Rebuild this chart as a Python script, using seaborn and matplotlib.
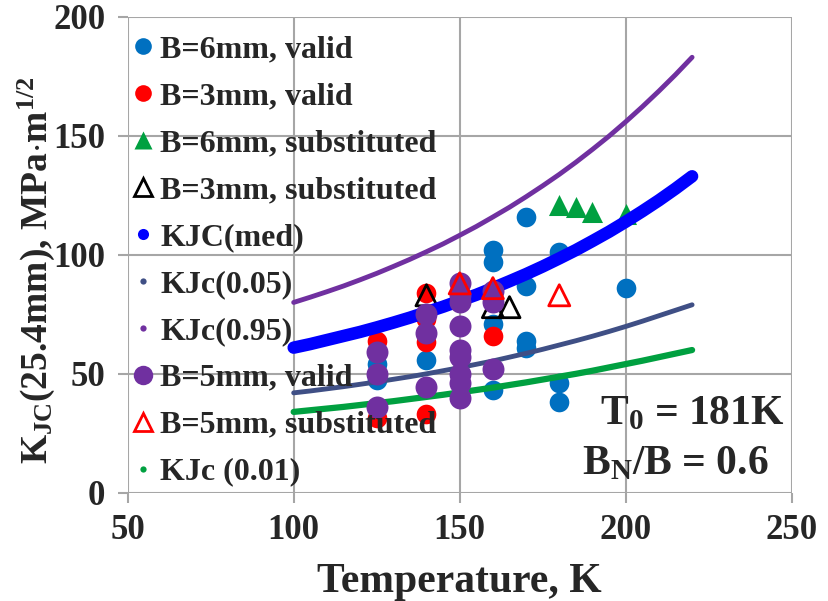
import numpy as np
import pandas as pd
import matplotlib
matplotlib.use('Agg')
import matplotlib.pyplot as plt
from matplotlib.lines import Line2D
import seaborn as sns

# measured points (Temperature K, KJC MPa*m^1/2)
b6_valid_T = [125, 125, 140, 160, 160, 160, 160, 170, 170, 170, 170, 180, 180, 180, 200]
b6_valid_K = [54, 47.5, 56, 102, 97, 71, 43, 116, 87, 64, 61, 101, 46, 38, 86]

b3_valid_T = [125, 125, 140, 140, 140, 140, 160]
b3_valid_K = [64, 31.5, 84, 73, 63.5, 33, 66]

b6_sub_T = [180, 185, 190, 200]
b6_sub_K = [121, 120, 118, 117]

b3_sub_T = [140, 160, 165]
b3_sub_K = [83, 78, 78]

b5_valid_T = [125, 125, 125, 140, 140, 140, 150, 150, 150, 150, 150, 150, 150, 150, 150, 160, 160, 160]
b5_valid_K = [59, 50, 36, 75, 67, 44.5, 88, 83, 80, 70, 60, 57, 50, 46, 40, 85, 80, 52]

b5_sub_T = [150, 160, 180]
b5_sub_K = [88, 86, 83]

# master curves every 5 K
curve_T = [100, 105, 110, 115, 120, 125, 130, 135, 140, 145, 150, 155, 160,
           165, 170, 175, 180, 185, 190, 195, 200, 205, 210, 215, 220]
k_med = [61.0, 62.5, 64.2, 65.9, 67.6, 69.5, 71.5, 73.6, 75.9, 78.2, 80.7, 83.2, 86.0,
         88.9, 91.9, 95.1, 98.5, 102.0, 105.8, 109.7, 113.9, 118.3, 122.9, 127.8, 133.0]
k_05 = [42.0, 42.8, 43.7, 44.6, 45.6, 46.6, 47.7, 48.8, 50.0, 51.3, 52.6, 54.0, 55.4,
        57.0, 58.6, 60.3, 62.1, 63.9, 65.8, 67.8, 69.9, 72.1, 74.4, 76.7, 79.0]
k_95 = [80.0, 82.2, 84.5, 86.9, 89.5, 92.2, 95.1, 98.1, 101.3, 104.6, 108.2, 111.9, 115.9,
        120.0, 124.4, 129.0, 133.8, 138.9, 144.3, 149.9, 155.9, 162.2, 168.8, 175.7, 183.0]
k_01 = [34.0, 34.7, 35.4, 36.1, 36.9, 37.7, 38.5, 39.4, 40.3, 41.2, 42.2, 43.2, 44.2,
        45.3, 46.4, 47.6, 48.8, 50.0, 51.3, 52.7, 54.1, 55.5, 57.0, 58.5, 60.0]

sns.set_style("white")
plt.rcParams['font.family'] = ['Liberation Serif', 'DejaVu Serif']
plt.rcParams['font.weight'] = 'bold'
plt.rcParams['mathtext.fontset'] = 'custom'
plt.rcParams['mathtext.rm'] = 'Liberation Serif:bold'
plt.rcParams['mathtext.it'] = 'Liberation Serif:bold'
plt.rcParams['mathtext.bf'] = 'Liberation Serif:bold'

fig = plt.figure(figsize=(8.29, 6.01), dpi=100)
ax = fig.add_axes([0.154, 0.180, 0.801, 0.792])

c_blue = '#0070C0'
c_red = '#FF0000'
c_green = '#00A040'
c_purple = '#7030A0'
c_med = '#0000FF'
c_05 = '#3F4F85'

curves = pd.DataFrame({'T': curve_T, 'med': k_med, 'p05': k_05, 'p95': k_95, 'p01': k_01})

sns.scatterplot(x=b6_valid_T, y=b6_valid_K, ax=ax, color=c_blue, s=200, linewidth=0, zorder=3)
sns.scatterplot(x=b3_valid_T, y=b3_valid_K, ax=ax, color=c_red, s=200, linewidth=0, zorder=3)
sns.scatterplot(x=b6_sub_T, y=b6_sub_K, ax=ax, color=c_green, marker='^', s=230, linewidth=0, zorder=3)
sns.scatterplot(x=b3_sub_T, y=b3_sub_K, ax=ax, marker='^', s=230, facecolor='none',
                edgecolor='black', linewidth=2, zorder=4)
sns.lineplot(data=curves, x='T', y='med', ax=ax, color=c_med, linewidth=9,
             solid_capstyle='round', zorder=4)
sns.lineplot(data=curves, x='T', y='p05', ax=ax, color=c_05, linewidth=3.5, zorder=4)
sns.lineplot(data=curves, x='T', y='p95', ax=ax, color=c_purple, linewidth=3.5, zorder=4)
sns.scatterplot(x=b5_valid_T, y=b5_valid_K, ax=ax, color=c_purple, s=250, linewidth=0, zorder=5)
sns.scatterplot(x=b5_sub_T, y=b5_sub_K, ax=ax, marker='^', s=230, facecolor='none',
                edgecolor=c_red, linewidth=2, zorder=6)
sns.lineplot(data=curves, x='T', y='p01', ax=ax, color=c_green, linewidth=4.5, zorder=4)

ax.set_xlim(50, 250)
ax.set_ylim(0, 200)
ax.set_xticks([50, 100, 150, 200, 250])
ax.set_yticks([0, 50, 100, 150, 200])
ax.grid(True, color='#A6A6A6', linewidth=1.5)
ax.set_axisbelow(True)
for s in ax.spines.values():
    s.set_visible(False)
ax.tick_params(axis='both', bottom=True, left=True, direction='out', labelsize=25,
               length=7, width=1.5, color='#A6A6A6')
ax.tick_params(axis='x', pad=8)
ax.tick_params(axis='y', pad=9)
for lab in ax.get_xticklabels() + ax.get_yticklabels():
    lab.set_fontweight('bold')

ax.set_xlabel('Temperature, K', fontsize=30, fontweight='bold', labelpad=12)
ax.set_ylabel(r'K$_{\mathregular{JC}}$(25.4mm), MPa$\cdot$m$^{\mathregular{1/2}}$',
              fontsize=27, fontweight='bold')
ax.yaxis.set_label_coords(-0.106, 0.468)

ax.text(248, 33, r'T$_{\mathregular{0}}$ = 181K', fontsize=30, fontweight='bold',
        ha='right', va='center')
ax.text(243, 12, r'B$_{\mathregular{N}}$/B = 0.6', fontsize=30, fontweight='bold',
        ha='right', va='center')

handles = [
    Line2D([], [], ls='', marker='o', ms=12, color=c_blue, mec='none'),
    Line2D([], [], ls='', marker='o', ms=12, color=c_red, mec='none'),
    Line2D([], [], ls='', marker='^', ms=13, color=c_green, mec='none'),
    Line2D([], [], ls='', marker='^', ms=13, mfc='none', mec='black', mew=2),
    Line2D([], [], ls='', marker='o', ms=8, color=c_med, mec='none'),
    Line2D([], [], ls='', marker='o', ms=4.5, color=c_05, mec='none'),
    Line2D([], [], ls='', marker='o', ms=4.5, color=c_purple, mec='none'),
    Line2D([], [], ls='', marker='o', ms=14, color=c_purple, mec='none'),
    Line2D([], [], ls='', marker='^', ms=13, mfc='none', mec=c_red, mew=2),
    Line2D([], [], ls='', marker='o', ms=4.5, color=c_green, mec='none'),
]
labels = ['B=6mm, valid', 'B=3mm, valid', 'B=6mm, substituted', 'B=3mm, substituted',
          'KJC(med)', 'KJc(0.05)', 'KJc(0.95)', 'B=5mm, valid', 'B=5mm, substituted',
          'KJc (0.01)']
leg = ax.legend(handles, labels, loc='upper left', bbox_to_anchor=(-0.006, 0.982),
                frameon=False, fontsize=23, handlelength=0.6, handletextpad=0.25,
                labelspacing=0.55, borderaxespad=0.1, borderpad=0.2)
for t in leg.get_texts():
    t.set_fontweight('bold')
leg.set_zorder(7)

fig.savefig('out.png', dpi=100)
